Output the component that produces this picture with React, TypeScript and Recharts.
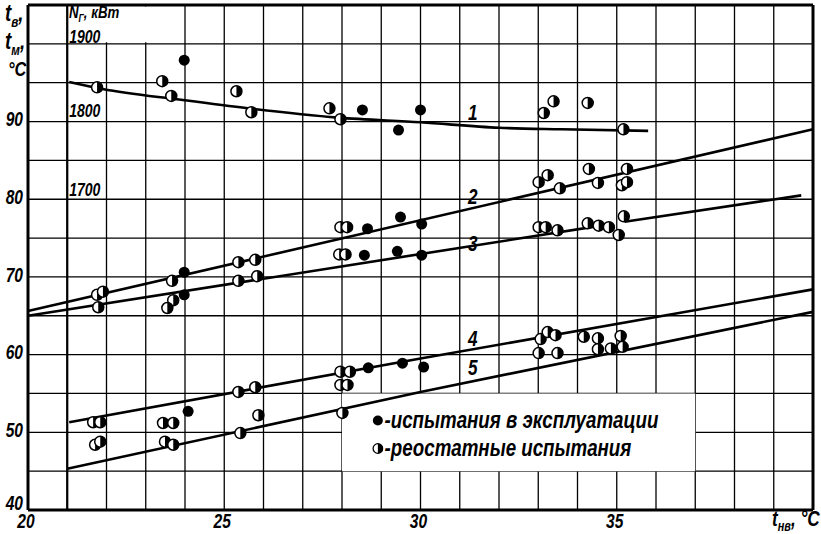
import { ComposedChart, Line, Scatter, XAxis, YAxis, CartesianGrid, ReferenceLine, ReferenceArea } from "recharts";

const FONT = "'Liberation Sans', Arial, sans-serif";
const SX = 0.78; // the scan's lettering is a narrow italic, so squeeze the glyphs

const xTicks = [20, 21, 22, 23, 24, 25, 26, 27, 28, 29, 30, 31, 32, 33, 34, 35, 36, 37, 38, 39, 40];
const yTicks = [40, 45, 50, 55, 60, 65, 70, 75, 80, 85, 90, 95, 100, 105];
const xLabeled = [20, 25, 30, 35];
const yLabeled = [40, 50, 60, 70, 80, 90];

// curves 1..5 (t_в / t_м vs t_нв)
const line1 = [
  { x: 21.05, y: 95.1 }, { x: 21.9, y: 94.2 }, { x: 23.9, y: 92.8 }, { x: 25.6, y: 91.7 },
  { x: 27.9, y: 90.5 }, { x: 30, y: 89.9 }, { x: 32, y: 89.2 }, { x: 33.6, y: 89.0 }, { x: 35.8, y: 88.8 },
];
const line2 = [{ x: 20, y: 65.6 }, { x: 40, y: 89.0 }];
const line3a = [{ x: 20, y: 65.0 }, { x: 34.6, y: 76.6 }];
const line3b = [{ x: 35.2, y: 77.1 }, { x: 39.7, y: 80.5 }];
const line4 = [{ x: 21.05, y: 51.3 }, { x: 30, y: 59.5 }, { x: 40, y: 68.4 }];
const line5 = [{ x: 21, y: 45.3 }, { x: 30, y: 55.2 }, { x: 40, y: 65.5 }];

// ● испытания в эксплуатации
const operation = [
  { x: 23.98, y: 97.9 }, { x: 28.52, y: 91.5 }, { x: 29.44, y: 88.9 }, { x: 30.0, y: 91.5 },
  { x: 23.98, y: 70.6 }, { x: 23.98, y: 67.7 },
  { x: 28.65, y: 76.2 }, { x: 29.49, y: 77.7 }, { x: 30.03, y: 76.8 },
  { x: 28.57, y: 72.8 }, { x: 29.41, y: 73.3 }, { x: 30.03, y: 72.8 },
  { x: 24.08, y: 52.7 },
  { x: 28.67, y: 58.3 }, { x: 29.54, y: 58.9 }, { x: 30.08, y: 58.4 },
];

// ◑ реостатные испытания
const rheostat = [
  { x: 21.76, y: 94.4 }, { x: 23.42, y: 95.2 }, { x: 23.65, y: 93.3 }, { x: 25.31, y: 93.9 },
  { x: 25.69, y: 91.2 }, { x: 27.68, y: 91.7 }, { x: 27.96, y: 90.3 }, { x: 33.14, y: 91.1 },
  { x: 33.39, y: 92.6 }, { x: 34.26, y: 92.4 }, { x: 35.17, y: 89.0 },
  { x: 21.76, y: 67.7 }, { x: 21.91, y: 68.1 }, { x: 21.79, y: 66.1 }, { x: 23.67, y: 69.5 },
  { x: 23.7, y: 67.0 }, { x: 23.55, y: 66.0 }, { x: 25.36, y: 71.9 }, { x: 25.79, y: 72.2 },
  { x: 25.36, y: 69.5 }, { x: 25.84, y: 70.1 }, { x: 27.96, y: 76.4 }, { x: 28.13, y: 76.4 },
  { x: 27.93, y: 72.9 }, { x: 28.09, y: 72.9 }, { x: 33.01, y: 82.2 }, { x: 33.24, y: 83.1 },
  { x: 33.55, y: 81.4 }, { x: 34.29, y: 83.9 }, { x: 34.52, y: 82.1 }, { x: 35.26, y: 83.9 },
  { x: 35.13, y: 81.8 }, { x: 35.26, y: 82.2 },
  { x: 33.01, y: 76.4 }, { x: 33.19, y: 76.4 }, { x: 33.49, y: 76.0 }, { x: 34.26, y: 76.9 },
  { x: 34.54, y: 76.6 }, { x: 34.8, y: 76.4 }, { x: 35.05, y: 75.4 }, { x: 35.18, y: 77.8 },
  { x: 21.66, y: 51.3 }, { x: 21.84, y: 51.3 }, { x: 21.71, y: 48.4 }, { x: 21.84, y: 48.8 },
  { x: 23.44, y: 51.2 }, { x: 23.7, y: 51.2 }, { x: 23.49, y: 48.8 }, { x: 23.7, y: 48.4 },
  { x: 25.41, y: 49.9 }, { x: 25.87, y: 52.2 }, { x: 25.36, y: 55.2 }, { x: 25.79, y: 55.8 },
  { x: 27.96, y: 56.1 }, { x: 28.14, y: 56.1 }, { x: 28.01, y: 52.5 }, { x: 27.96, y: 57.8 },
  { x: 28.2, y: 57.8 }, { x: 33.06, y: 62.0 }, { x: 33.24, y: 62.9 }, { x: 33.44, y: 62.5 },
  { x: 33.01, y: 60.2 }, { x: 33.49, y: 60.2 }, { x: 34.16, y: 62.3 }, { x: 34.52, y: 62.1 },
  { x: 35.1, y: 62.4 }, { x: 34.52, y: 60.7 }, { x: 34.85, y: 60.8 }, { x: 35.15, y: 61.0 },
];

const curveLabels = [
  { x: 31.33, y: 91.2, t: "1" }, { x: 31.33, y: 80.4, t: "2" }, { x: 31.33, y: 74.4, t: "3" },
  { x: 31.33, y: 62.1, t: "4" }, { x: 31.33, y: 58.4, t: "5" },
];
// N_Г, кВт scale written along x = 21
const powerLabels = [
  { x: 21.05, y: 101.0, t: "1900" }, { x: 21.05, y: 91.4, t: "1800" }, { x: 21.05, y: 81.3, t: "1700" },
];

const R = 5.5;

const FullDot = (p: any) => <circle cx={p.cx} cy={p.cy} r={R} fill="#000" />;

const HalfDot = (p: any) => (
  <g>
    <circle cx={p.cx} cy={p.cy} r={R} fill="#fff" stroke="#000" strokeWidth={1.5} />
    <path d={`M${p.cx},${p.cy - R} A${R},${R} 0 0 1 ${p.cx},${p.cy + R} Z`} fill="#000" />
  </g>
);

const NarrowText = ({ x, y, anchor, size, children }: any) => (
  <g transform={`translate(${x},${y}) scale(${SX},1)`}>
    <text x={0} y={0} textAnchor={anchor} dominantBaseline="central" fontFamily={FONT}
      fontStyle="italic" fontWeight="bold" fontSize={size} fill="#000">{children}</text>
  </g>
);

const TextMark = (anchor: "middle" | "start", size: number) => (p: any) => (
  <NarrowText x={p.cx} y={p.cy} anchor={anchor} size={size}>{p.payload?.t ?? p.t}</NarrowText>
);

const XTick = (p: any) => {
  if (!xLabeled.includes(p.payload.value)) return <g />;
  return <NarrowText x={p.x - 2} y={p.y + 3} anchor="middle" size={20}>{p.payload.value}</NarrowText>;
};

const YTick = (p: any) => {
  if (!yLabeled.includes(p.payload.value)) return <g />;
  const dy = p.payload.value === 40 ? -7 : -2;
  return <NarrowText x={p.x + 3} y={p.y + dy} anchor="end" size={20}>{p.payload.value}</NarrowText>;
};

const txt: React.CSSProperties = {
  position: "absolute", fontFamily: FONT, fontStyle: "italic", fontWeight: "bold", color: "#000",
  lineHeight: 1, whiteSpace: "nowrap", transform: `scaleX(${SX})`, transformOrigin: "left top",
};

export default function App() {
  return (
    <div style={{ position: "absolute", left: 0, top: 0, width: 821, height: 534, background: "#fff" }}>
      <ComposedChart width={821} height={534} margin={{ top: 5, right: 8, left: 0, bottom: 0 }}>
        <CartesianGrid stroke="#000" strokeWidth={1.3} />
        <XAxis type="number" dataKey="x" domain={[20, 40]} ticks={xTicks} interval={0}
          axisLine={false} tickLine={false} tick={<XTick />} height={24} />
        <YAxis type="number" dataKey="y" domain={[40, 105]} ticks={yTicks} interval={0}
          axisLine={false} tickLine={false} tick={<YTick />} width={28} />
        <ReferenceArea x1={28} x2={37} y1={45} y2={55} fill="#fff" fillOpacity={1} stroke="none" />
        <ReferenceArea x1={21.05} x2={23.3} y1={100.2} y2={104.8} fill="#fff" fillOpacity={1} stroke="none" />
        <ReferenceLine x={21} stroke="#000" strokeWidth={2.2} />
        <ReferenceLine x={20} stroke="#000" strokeWidth={3} />
        <ReferenceLine x={40} stroke="#000" strokeWidth={3} />
        <ReferenceLine y={40} stroke="#000" strokeWidth={3} />
        <ReferenceLine y={105} stroke="#000" strokeWidth={3} />

        <Line data={line1} dataKey="y" type="monotone" stroke="#000" strokeWidth={2.6} dot={false} isAnimationActive={false} />
        <Line data={line2} dataKey="y" stroke="#000" strokeWidth={2.6} dot={false} isAnimationActive={false} />
        <Line data={line3a} dataKey="y" stroke="#000" strokeWidth={2.6} dot={false} isAnimationActive={false} />
        <Line data={line3b} dataKey="y" stroke="#000" strokeWidth={2.6} dot={false} isAnimationActive={false} />
        <Line data={line4} dataKey="y" stroke="#000" strokeWidth={2.6} dot={false} isAnimationActive={false} />
        <Line data={line5} dataKey="y" stroke="#000" strokeWidth={2.6} dot={false} isAnimationActive={false} />

        <Scatter data={rheostat} shape={HalfDot} isAnimationActive={false} />
        <Scatter data={operation} shape={FullDot} isAnimationActive={false} />
        <Scatter data={curveLabels} shape={TextMark("middle", 22)} isAnimationActive={false} />
        <Scatter data={powerLabels} shape={TextMark("start", 18)} isAnimationActive={false} />
      </ComposedChart>

      <div style={{ ...txt, left: 5, top: 1, fontSize: 24 }}>t<sub style={{ fontSize: 15 }}>в</sub>,</div>
      <div style={{ ...txt, left: 5, top: 29, fontSize: 24 }}>t<sub style={{ fontSize: 15 }}>м</sub>,</div>
      <div style={{ ...txt, left: 8, top: 58, fontSize: 21 }}>°C</div>
      <div style={{ ...txt, left: 69, top: 4, fontSize: 17 }}>N<sub style={{ fontSize: 11 }}>Г</sub>, кВт</div>
      <div style={{ ...txt, left: 772, top: 508, fontSize: 22 }}>t<sub style={{ fontSize: 14 }}>нв</sub>, °C</div>

      <div style={{ ...txt, left: 372, top: 408, fontSize: 24, display: "flex", alignItems: "center" }}>
        <svg width={15} height={13} style={{ marginRight: 1 }}>
          <ellipse cx={7.5} cy={6.5} rx={6.4} ry={5} fill="#000" />
        </svg>
        -испытания в эксплуатации
      </div>
      <div style={{ ...txt, left: 372, top: 436, fontSize: 24, display: "flex", alignItems: "center" }}>
        <svg width={15} height={13} style={{ marginRight: 1 }}>
          <g transform="scale(1.28,1)">
            <circle cx={5.9} cy={6.5} r={4.8} fill="#fff" stroke="#000" strokeWidth={1.3} />
            <path d="M5.9,1.7 A4.8,4.8 0 0 1 5.9,11.3 Z" fill="#000" />
          </g>
        </svg>
        -реостатные испытания
      </div>
    </div>
  );
}
